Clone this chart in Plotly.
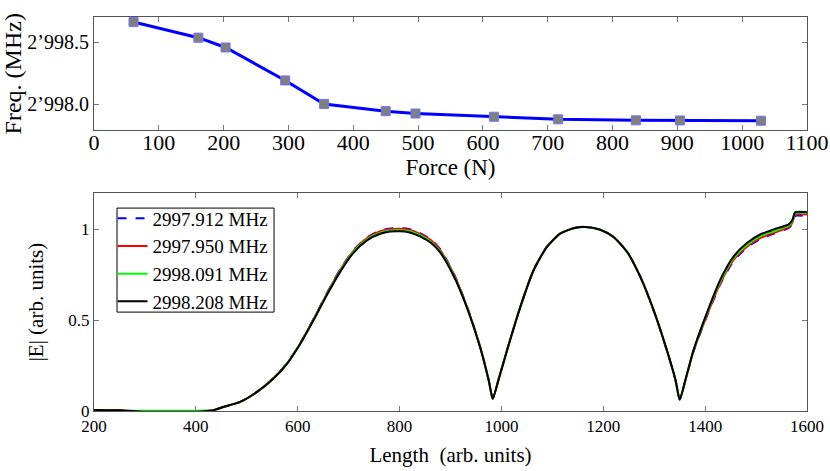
import plotly.graph_objects as go

# top panel: resonance frequency vs applied force
force = [61, 161, 203, 295, 355, 450, 496, 617, 716, 836, 904, 1029]
freq = [2998.664, 2998.538, 2998.459, 2998.193, 2998.003, 2997.945,
        2997.926, 2997.900, 2997.879, 2997.871, 2997.870, 2997.868]
freq_ticks = [2998.0, 2998.5]
freq_ticktext = ['2\u2019998.0', '2\u2019998.5']

# bottom panel: field profile |E| along the structure
length = [200, 250, 300, 350, 400, 434, 454, 487, 520, 552, 579, 605, 631, 657,
          683, 709, 736, 762, 781, 800, 818, 840, 862, 880, 906, 932, 958, 975,
          983, 994, 1011, 1037, 1063, 1089, 1115, 1142, 1165, 1194, 1220, 1247,
          1273, 1299, 1325, 1342, 1350, 1361, 1377, 1404, 1430, 1456, 1482, 1508,
          1535, 1564, 1571, 1577, 1600]

e_2997_912 = [0.006, 0.004, -0.004, -0.004, -0.004, 0.004, 0.022, 0.05, 0.105, 0.18, 0.263, 0.374, 0.506, 0.648,
              0.778, 0.884, 0.956, 0.994, 1.005, 1.008, 1.003, 0.98, 0.944, 0.89, 0.76, 0.578, 0.356, 0.17,
              0.068, 0.17, 0.335, 0.573, 0.775, 0.904, 0.977, 1.008, 1.014, 0.999, 0.959, 0.876,
              0.738, 0.553, 0.332, 0.167, 0.063, 0.165, 0.326, 0.527, 0.70, 0.827, 0.90, 0.947,
              0.977, 1.008, 1.03, 1.075, 1.072]
e_2997_950 = [0.006, 0.004, -0.004, -0.004, -0.004, 0.004, 0.022, 0.05, 0.105, 0.18, 0.262, 0.373, 0.505, 0.645,
              0.775, 0.88, 0.952, 0.99, 1.001, 1.004, 0.999, 0.976, 0.94, 0.886, 0.757, 0.576, 0.355, 0.17,
              0.068, 0.17, 0.335, 0.573, 0.775, 0.904, 0.977, 1.008, 1.014, 0.999, 0.959, 0.876,
              0.738, 0.553, 0.332, 0.167, 0.063, 0.166, 0.328, 0.53, 0.705, 0.832, 0.905, 0.952,
              0.982, 1.012, 1.035, 1.082, 1.082]
e_2998_091 = [0.004, 0.002, 0.001, 0.001, 0.001, 0.005, 0.022, 0.05, 0.105, 0.179, 0.261, 0.371, 0.502, 0.641,
              0.77, 0.876, 0.946, 0.982, 0.994, 0.996, 0.991, 0.968, 0.931, 0.878, 0.75, 0.574, 0.353, 0.169,
              0.068, 0.169, 0.334, 0.572, 0.774, 0.903, 0.976, 1.007, 1.013, 0.998, 0.958, 0.875,
              0.737, 0.554, 0.333, 0.168, 0.063, 0.168, 0.331, 0.54, 0.715, 0.842, 0.915, 0.962,
              0.99, 1.02, 1.042, 1.09, 1.09]
e_2998_208 = [0.006, 0.004, -0.004, -0.004, -0.004, 0.004, 0.022, 0.05, 0.105, 0.178, 0.26, 0.37, 0.50, 0.637,
              0.765, 0.87, 0.94, 0.976, 0.988, 0.99, 0.985, 0.962, 0.925, 0.872, 0.745, 0.572, 0.352, 0.169,
              0.068, 0.169, 0.334, 0.572, 0.774, 0.903, 0.976, 1.007, 1.013, 0.998, 0.958, 0.875,
              0.737, 0.554, 0.334, 0.169, 0.063, 0.169, 0.334, 0.545, 0.725, 0.852, 0.925, 0.972,
              1.0, 1.028, 1.05, 1.095, 1.095]

serif = 'Liberation Serif'

fig = go.Figure()

fig.add_trace(go.Scatter(
    x=force, y=freq, mode='lines+markers', showlegend=False,
    line=dict(color='#0000ff', width=3),
    marker=dict(symbol='square', size=9, color='#7f7f7f',
                line=dict(color='#7070ff', width=1)),
    xaxis='x', yaxis='y'))

curves = [
    ('2997.912 MHz', e_2997_912, '#0000ff', 'dash'),
    ('2997.950 MHz', e_2997_950, '#ff0000', 'solid'),
    ('2998.091 MHz', e_2998_091, '#00ff00', 'solid'),
    ('2998.208 MHz', e_2998_208, '#000000', 'solid'),
]
for name, vals, col, dash in curves:
    fig.add_trace(go.Scatter(
        x=length, y=vals, mode='lines', name=name,
        line=dict(color=col, width=2, dash=dash, shape='spline', smoothing=0.6),
        xaxis='x2', yaxis='y2'))

axis_common = dict(
    showgrid=False, zeroline=False, showline=True, linecolor='#555555',
    linewidth=1, mirror='ticks', ticks='inside', ticklen=5, tickcolor='#777777',
    automargin=False, ticklabeloverflow='allow',
)
bot_font = dict(family=serif, size=17, color='black')

fig.update_layout(
    width=830, height=471,
    margin=dict(l=94, r=23, t=17, b=60),
    paper_bgcolor='white', plot_bgcolor='white',
    font=dict(family=serif, color='black'),
    xaxis=dict(axis_common, domain=[0, 1], range=[0, 1100], dtick=100, anchor='y',
               tickfont=dict(family=serif, size=22, color='black'), ticklabelstandoff=-8,
               title=dict(text='Force (N)', font=dict(family=serif, size=23), standoff=1)),
    yaxis=dict(axis_common, domain=[0.712, 1], range=[2997.789, 2998.705], anchor='x',
               tickvals=freq_ticks, ticktext=freq_ticktext,
               tickfont=dict(family=serif, size=20, color='black'),
               title=dict(text='Freq. (MHz)', font=dict(family=serif, size=24), standoff=4)),
    xaxis2=dict(axis_common, domain=[0, 1], range=[200, 1600], dtick=200, anchor='y2',
                tickfont=bot_font,
                title=dict(text='Length  (arb. units)', font=dict(family=serif, size=21), standoff=11)),
    yaxis2=dict(axis_common, domain=[0, 0.553], range=[0, 1.2], anchor='x2',
                tickvals=[0, 0.5, 1], ticktext=['0', '0.5', '1'], tickfont=bot_font,
                title=dict(text='|E| (arb. units)', font=dict(family=serif, size=21), standoff=18)),
    legend=dict(x=0.026, y=0.537, xanchor='left', yanchor='top',
                borderwidth=0, bgcolor='rgba(0,0,0,0)',
                font=dict(family=serif, size=19), tracegroupgap=0),
    # frame around the legend entries
    shapes=[dict(type='rect', xref='paper', yref='paper',
                 x0=0.0323, x1=0.2525, y0=0.251, y1=0.515,
                 line=dict(color='black', width=1), layer='above')],
)

# drop the default page margin so the figure sits at the window corner
fig.write_html('out.html', config={'displayModeBar': False},
               post_script="document.body.style.margin='0';")
